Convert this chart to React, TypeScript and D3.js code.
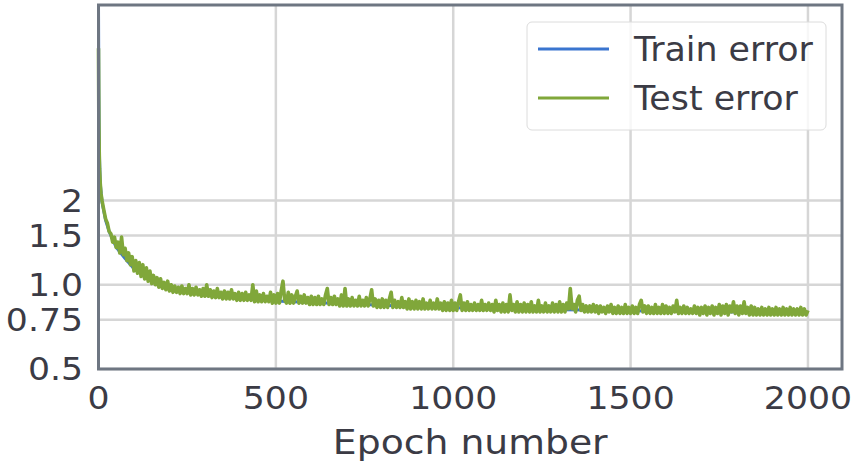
import React from "react";
import * as d3 from "d3";

const W = 852;
const H = 464;

const xTicks = [0, 500, 1000, 1500, 2000];
const yTicks = [0.5, 0.75, 1.0, 1.5, 2];
const yTickLabels = ["0.5", "0.75", "1.0", "1.5", "2"];

const seriesNames = ["Train error", "Test error"];
const seriesColors = ["#3a75cf", "#80a73a"];

// Train error (smooth, mostly hidden beneath test)
const trainEpochs = [0, 1, 2, 3, 5, 10, 20, 30, 50, 75, 100, 150, 200, 300, 400, 500, 600, 700, 800, 900, 1000, 1100, 1200, 1300, 1400, 1500, 1600, 1700, 1800, 1900, 2000];
const trainError = [10, 5.0, 3.5, 2.8, 2.3, 1.97, 1.7, 1.55, 1.36, 1.24, 1.14, 1.03, 0.965, 0.92, 0.895, 0.875, 0.865, 0.855, 0.845, 0.835, 0.827, 0.822, 0.817, 0.815, 0.812, 0.807, 0.805, 0.802, 0.8, 0.797, 0.795];

// Test error: first epochs, then one value every 5 epochs from 10 to 2000
const testEarlyEpochs = [0, 1, 2, 3, 5, 7];
const testEarly = [7.0, 3.8, 3.0, 2.6, 2.3, 2.12];
const testError = [
  2.00, 1.85, 1.72, 1.66, 1.55, 1.52, 1.42, 1.48, 1.36, 1.42, 1.30, 1.48, 1.28, 1.35, 1.22, 1.30, 1.18, 1.26, 1.12,
  1.22, 1.10, 1.20, 1.07, 1.18, 1.05, 1.15, 1.03, 1.12, 1.01, 1.08, 1.00, 1.06, 0.98, 1.05, 0.97, 1.02, 0.96, 1.03, 0.95,
  1.00, 0.94, 0.99, 0.94, 0.98, 0.93, 0.99, 0.93, 0.97, 0.93, 1.00, 0.92, 0.97, 0.92, 0.98, 0.92, 0.96, 0.91, 0.97, 0.91,
  1.00, 0.91, 0.96, 0.90, 0.95, 0.90, 0.97, 0.90, 0.94, 0.89, 0.95, 0.89, 0.94, 0.89, 0.96, 0.89, 0.93, 0.88, 0.94, 0.88,
  0.93, 0.88, 0.94, 0.88, 0.92, 0.88, 1.00, 0.87, 0.95, 0.87, 0.92, 0.87, 0.93, 0.87, 0.91, 0.87, 0.94, 0.86, 0.92, 0.86,
  0.93, 0.86, 0.95, 1.03, 0.88, 0.86, 0.94, 0.86, 0.92, 0.86, 0.91, 0.95, 0.86, 0.91, 0.86, 0.92, 0.86, 0.90, 0.85, 0.91,
  0.85, 0.90, 0.85, 0.91, 0.85, 0.89, 0.85, 0.92, 0.97, 0.85, 0.90, 0.85, 0.91, 0.85, 0.89, 0.84, 0.92, 0.84, 0.97, 0.84,
  0.89, 0.84, 0.90, 0.84, 0.88, 0.84, 0.91, 0.84, 0.88, 0.84, 0.90, 0.84, 0.89, 0.96, 0.84, 0.89, 0.83, 0.88, 0.83, 0.89,
  0.83, 0.88, 0.83, 0.89, 0.94, 0.83, 0.88, 0.83, 0.87, 0.83, 0.90, 0.83, 0.87, 0.82, 0.89, 0.82, 0.87, 0.82, 0.88, 0.82,
  0.87, 0.82, 0.89, 0.82, 0.86, 0.82, 0.88, 0.82, 0.86, 0.82, 0.89, 0.82, 0.86, 0.81, 0.87, 0.81, 0.86, 0.81, 0.88, 0.81,
  0.86, 0.81, 0.87, 0.92, 0.81, 0.86, 0.81, 0.87, 0.81, 0.85, 0.81, 0.86, 0.81, 0.85, 0.81, 0.88, 0.81, 0.85, 0.81, 0.86,
  0.81, 0.85, 0.80, 0.88, 0.81, 0.85, 0.80, 0.86, 0.80, 0.85, 0.80, 0.92, 0.81, 0.85, 0.80, 0.87, 0.80, 0.85, 0.80, 0.86,
  0.80, 0.85, 0.80, 0.87, 0.80, 0.84, 0.80, 0.88, 0.80, 0.84, 0.80, 0.86, 0.80, 0.84, 0.80, 0.86, 0.80, 0.85, 0.80, 0.87,
  0.80, 0.85, 0.80, 0.86, 0.82, 0.97, 0.82, 0.85, 0.80, 0.88, 0.91, 0.81, 0.85, 0.80, 0.84, 0.80, 0.84, 0.80, 0.85, 0.80,
  0.84, 0.79, 0.84, 0.80, 0.83, 0.79, 0.84, 0.80, 0.85, 0.79, 0.83, 0.79, 0.84, 0.79, 0.83, 0.79, 0.85, 0.79, 0.83, 0.79,
  0.84, 0.79, 0.83, 0.79, 0.85, 0.88, 0.80, 0.84, 0.79, 0.84, 0.79, 0.83, 0.79, 0.85, 0.79, 0.83, 0.79, 0.85, 0.79, 0.84,
  0.79, 0.83, 0.79, 0.84, 0.80, 0.88, 0.79, 0.83, 0.79, 0.84, 0.79, 0.83, 0.79, 0.82, 0.79, 0.84, 0.79, 0.83, 0.78, 0.83,
  0.79, 0.84, 0.78, 0.83, 0.79, 0.84, 0.78, 0.83, 0.79, 0.85, 0.78, 0.84, 0.79, 0.85, 0.78, 0.84, 0.80, 0.87, 0.79, 0.84,
  0.78, 0.84, 0.79, 0.87, 0.79, 0.83, 0.78, 0.84, 0.78, 0.83, 0.78, 0.82, 0.78, 0.83, 0.78, 0.82, 0.78, 0.83, 0.78, 0.82,
  0.78, 0.83, 0.78, 0.82, 0.78, 0.83, 0.78, 0.82, 0.78, 0.83, 0.78, 0.82, 0.78, 0.82, 0.78, 0.83, 0.78, 0.82, 0.78, 0.81,
];

const margin = { left: 98.5, right: 10, top: 5, bottom: 95 };

export default function App() {
  const x = d3.scaleLinear().domain([0, 2096]).range([margin.left, W - margin.right]);
  const y = d3.scaleLog().domain([0.5, 10]).range([H - margin.bottom, margin.top]);

  const trainPts: [number, number][] = trainEpochs.map((e, i) => [e, trainError[i]]);
  const testPts: [number, number][] = [
    ...testEarlyEpochs.map((e, i) => [e, testEarly[i]] as [number, number]),
    ...testError.map((v, i) => [10 + i * 5, v] as [number, number]),
  ];

  const line = d3
    .line<[number, number]>()
    .x((d) => x(d[0]))
    .y((d) => y(d[1]));

  const [x0, x1] = x.range();
  const [yb, yt] = y.range();
  const textColor = "#3b3b45";
  const spine = "#6e7682";
  const font = "DejaVu Sans, sans-serif";
  const sx = 1.1;

  return (
    <svg
      width={W}
      height={H}
      style={{ position: "absolute", left: 0, top: 0, background: "#fff" }}
      fontFamily={font}
    >
      <rect x={0} y={0} width={W} height={H} fill="#fff" />
      {/* grid */}
      {xTicks.map((t) => (
        <line key={"gx" + t} x1={x(t)} x2={x(t)} y1={yt} y2={yb} stroke="#d6d6d6" strokeWidth={2.5} />
      ))}
      {yTicks.map((t) => (
        <line key={"gy" + t} x1={x0} x2={x1} y1={y(t)} y2={y(t)} stroke="#d6d6d6" strokeWidth={2.5} />
      ))}
      {/* lines */}
      <path d={line(trainPts) || ""} fill="none" stroke={seriesColors[0]} strokeWidth={3} strokeLinejoin="round" />
      <path d={line(testPts) || ""} fill="none" stroke={seriesColors[1]} strokeWidth={3.6} strokeLinejoin="round" />
      {/* spines */}
      <rect x={x0} y={yt} width={x1 - x0} height={yb - yt} fill="none" stroke={spine} strokeWidth={3} />
      {/* tick labels */}
      {xTicks.map((t) => (
        <text
          key={"tx" + t}
          transform={`translate(${x(t)},409) scale(${sx},1)`}
          textAnchor="middle"
          fontSize={31.5}
          fill={textColor}
        >
          {t}
        </text>
      ))}
      {yTicks.map((t, i) => (
        <text
          key={"ty" + t}
          transform={`translate(83,${y(t)}) scale(${sx},1)`}
          dy="0.36em"
          textAnchor="end"
          fontSize={31.5}
          fill={textColor}
        >
          {yTickLabels[i]}
        </text>
      ))}
      <text
        transform={`translate(${(x0 + x1) / 2},454) scale(1.11,1)`}
        textAnchor="middle"
        fontSize={34}
        fill={textColor}
      >
        Epoch number
      </text>
      {/* legend */}
      <g>
        <rect x={527} y={22} width={299} height={108} rx={5} fill="#fff" fillOpacity={0.8} stroke="#dcdcdc" strokeWidth={1} />
        {seriesNames.map((n, i) => (
          <g key={n}>
            <line x1={538} x2={609} y1={49 + i * 49} y2={49 + i * 49} stroke={seriesColors[i]} strokeWidth={3} />
            <text
              transform={`translate(634,${61 + i * 49}) scale(1.04,1)`}
              fontSize={33.5}
              fill={textColor}
            >
              {n}
            </text>
          </g>
        ))}
      </g>
    </svg>
  );
}
